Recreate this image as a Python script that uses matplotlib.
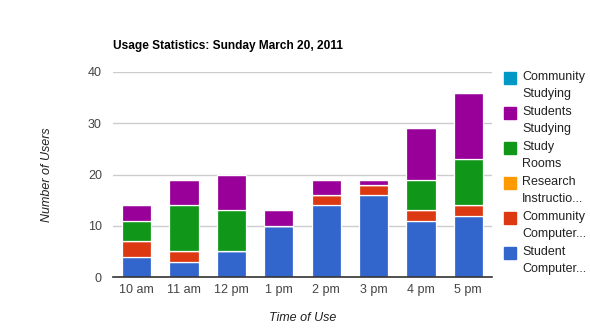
import matplotlib
matplotlib.use("Agg")
import matplotlib.pyplot as plt
from matplotlib.patches import Rectangle
import numpy as np

plt.rcParams['font.family'] = ['Liberation Sans', 'DejaVu Sans']

categories = ["10 am", "11 am", "12 pm", "1 pm", "2 pm", "3 pm", "4 pm", "5 pm"]
student_computer = [4, 3, 5, 10, 14, 16, 11, 12]
community_computer = [3, 2, 0, 0, 2, 2, 2, 2]
research_instruction = [0, 0, 0, 0, 0, 0, 0, 0]
study_rooms = [4, 9, 8, 0, 0, 0, 6, 9]
students_studying = [3, 5, 7, 3, 3, 1, 10, 13]
community_studying = [0, 0, 0, 0, 0, 0, 0, 0]

series = [
    ("Student\nComputer...", student_computer, "#3366cc"),
    ("Community\nComputer...", community_computer, "#dc3912"),
    ("Research\nInstructio...", research_instruction, "#ff9900"),
    ("Study\nRooms", study_rooms, "#109618"),
    ("Students\nStudying", students_studying, "#990099"),
    ("Community\nStudying", community_studying, "#0099c6"),
]

W, H = 590, 332
fig = plt.figure(figsize=(W / 100, H / 100), dpi=100)
ax = fig.add_axes([113 / W, 1 - 277 / H, (492 - 113) / W, (277 - 72) / H])

x = np.arange(len(categories))
bottom = np.zeros(len(categories))
for name, vals, col in series:
    v = np.array(vals, dtype=float)
    ax.bar(x, v, 0.62, bottom=bottom, color=col, edgecolor="white", linewidth=0.9, zorder=3)
    bottom += v

ax.set_xlim(-0.5, len(categories) - 0.5)
ax.set_ylim(0, 40)
ax.set_yticks([0, 10, 20, 30, 40])
ax.set_xticks(x)
ax.set_xticklabels(categories)
ax.grid(axis="y", color="#cccccc", linewidth=1, zorder=0)
for s in ["top", "right", "left"]:
    ax.spines[s].set_visible(False)
ax.spines["bottom"].set_color("#333333")
ax.spines["bottom"].set_linewidth(1.2)
ax.spines["bottom"].set_zorder(4)
ax.tick_params(axis="both", length=0, labelsize=9, colors="#222222", labelcolor="#444444")
ax.tick_params(axis="y", pad=8)
ax.tick_params(axis="x", pad=5)

fig.text(113 / W, 1 - 46 / H, "Usage Statistics: Sunday March 20, 2011",
         fontsize=8.6, fontweight="bold", color="black", va="center", ha="left")
fig.text(47 / W, 1 - 175 / H, "Number of Users", rotation=90, style="italic",
         fontsize=9, color="#222222", va="center", ha="center")
fig.text(303 / W, 1 - 318 / H, "Time of Use", style="italic",
         fontsize=9, color="#222222", va="center", ha="center")

# legend (top to bottom: reversed order of stacking)
y0 = 78
for i, (name, vals, col) in enumerate(reversed(series)):
    yc = y0 + i * 35
    fig.add_artist(Rectangle((504 / W, 1 - (yc + 6) / H), 12 / W, 12 / H,
                             transform=fig.transFigure, color=col))
    fig.text(522 / W, 1 - (yc - 7) / H, name, fontsize=9, color="#222222",
             va="top", ha="left", linespacing=1.6)

fig.savefig("out.png", dpi=100)
